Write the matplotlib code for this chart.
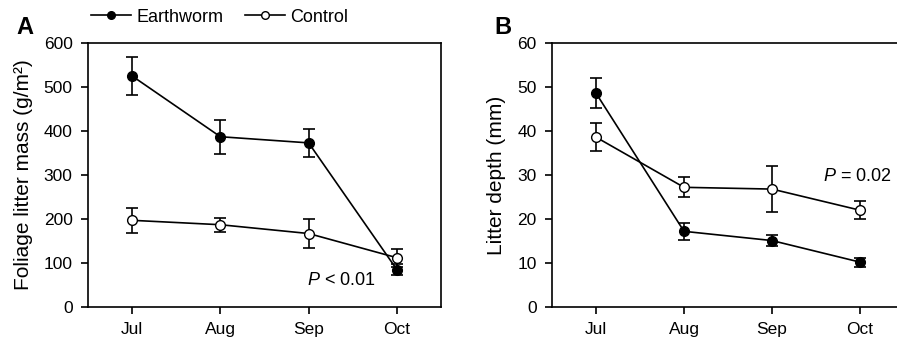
import matplotlib
matplotlib.use("Agg")
import matplotlib.pyplot as plt
from matplotlib.lines import Line2D

plt.rcParams['font.family'] = ['Liberation Sans', 'DejaVu Sans']
plt.rcParams['mathtext.fontset'] = 'custom'
plt.rcParams['mathtext.rm'] = 'Liberation Sans'
plt.rcParams['mathtext.it'] = 'Liberation Sans:italic'

months = ['Jul', 'Aug', 'Sep', 'Oct']

# panel A: foliage litter mass (g/m2)
mass_worm = [525, 387, 373, 85]
mass_worm_err = [43, 39, 31, 13]
mass_ctrl = [197, 187, 167, 112]
mass_ctrl_err = [29, 16, 34, 20]

# panel B: litter depth (mm)
depth_worm = [48.6, 17.2, 15.1, 10.2]
depth_worm_err = [3.4, 1.9, 1.2, 1.0]
depth_ctrl = [38.6, 27.2, 26.8, 22.0]
depth_ctrl_err = [3.2, 2.3, 5.2, 2.1]

W, H = 897, 342
fig = plt.figure(figsize=(W / 100, H / 100), dpi=100)
axA = fig.add_axes([88 / W, 35 / H, 353 / W, 264 / H])
axB = fig.add_axes([552 / W, 35 / H, 352 / W, 264 / H])

x = range(len(months))


def draw(ax, worm, worm_err, ctrl, ctrl_err):
    kw = dict(color='black', lw=1.2, capsize=4, capthick=1.2, elinewidth=1.2, ms=7)
    ax.errorbar(x, worm, yerr=worm_err, fmt='-o', mfc='black', mec='black', **kw)
    ax.errorbar(x, ctrl, yerr=ctrl_err, fmt='-o', mfc='white', mec='black', zorder=3, **kw)
    ax.set_xlim(-0.5, 3.5)
    ax.set_xticks(list(x))
    ax.set_xticklabels(months)
    ax.tick_params(direction='out', length=5, width=1.2, labelsize=12.5, pad=6)
    for s in ax.spines.values():
        s.set_linewidth(1.2)


draw(axA, mass_worm, mass_worm_err, mass_ctrl, mass_ctrl_err)
axA.set_ylim(0, 600)
axA.set_yticks(range(0, 601, 100))
axA.set_ylabel('Foliage litter mass (g/m²)', fontsize=15, labelpad=8)
axA.text(0.62, 0.10, r'$P$ < 0.01', transform=axA.transAxes, fontsize=13, va='center')
fig.text(16 / W, 1 - 28 / H, 'A', fontsize=17, fontweight='bold', va='center')

draw(axB, depth_worm, depth_worm_err, depth_ctrl, depth_ctrl_err)
axB.set_ylim(0, 60)
axB.set_yticks(range(0, 61, 10))
axB.set_ylabel('Litter depth (mm)', fontsize=15, labelpad=8)
axB.text(0.77, 0.496, r'$P$ = 0.02', transform=axB.transAxes, fontsize=13, va='center')
fig.text(494 / W, 1 - 28 / H, 'B', fontsize=17, fontweight='bold', va='center')

hw = Line2D([], [], color='black', lw=1.2, marker='o', ms=5.5, mfc='black', mec='black')
hc = Line2D([], [], color='black', lw=1.2, marker='o', ms=5.5, mfc='white', mec='black')
fig.legend([hw, hc], ['Earthworm', 'Control'], loc='center left',
           bbox_to_anchor=(84 / W, 1 - 17 / H), ncol=2, frameon=False,
           fontsize=13, handlelength=2.2, handletextpad=0.3, columnspacing=1.2,
           borderaxespad=0)

fig.savefig('out.png', dpi=100)
